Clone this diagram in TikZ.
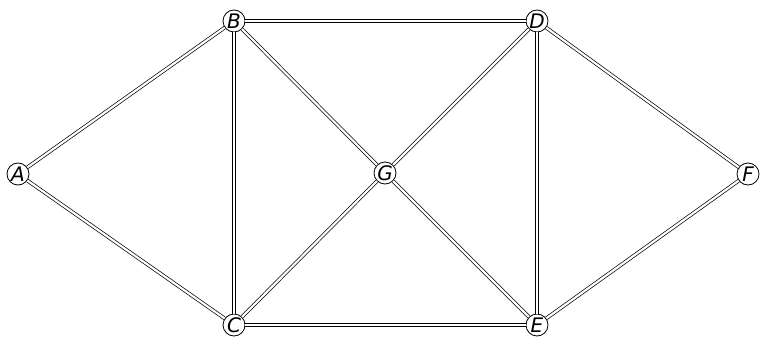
\documentclass[tikz,border=0pt]{standalone}
\usepackage{fontspec}
\setmainfont{DejaVu Sans}
\begin{document}
\begin{tikzpicture}[x=1pt,y=-1pt,
  vtx/.style={circle,draw,line width=0.8pt,fill=white,minimum size=22pt,inner sep=0pt,font=\itshape\fontsize{20}{20}\selectfont},
  edg/.style={draw,line width=0.7pt,double=white,double distance=2.2pt}]
\useasboundingbox (0,0) rectangle (767,342);
\node[vtx] (A) at (18,174) {A};
\node[vtx] (B) at (234,21) {B};
\node[vtx] (C) at (234,325) {C};
\node[vtx] (D) at (537,21) {D};
\node[vtx] (E) at (537,325) {E};
\node[vtx] (F) at (748,174) {F};
\node[vtx] (G) at (385,173) {G};
\path[edg] (A) -- (B);
\path[edg] (A) -- (C);
\path[edg] (B) -- (D);
\path[edg] (B) -- (C);
\path[edg] (B) -- (G);
\path[edg] (C) -- (G);
\path[edg] (C) -- (E);
\path[edg] (D) -- (G);
\path[edg] (D) -- (E);
\path[edg] (D) -- (F);
\path[edg] (G) -- (E);
\path[edg] (E) -- (F);
\end{tikzpicture}
\end{document}
